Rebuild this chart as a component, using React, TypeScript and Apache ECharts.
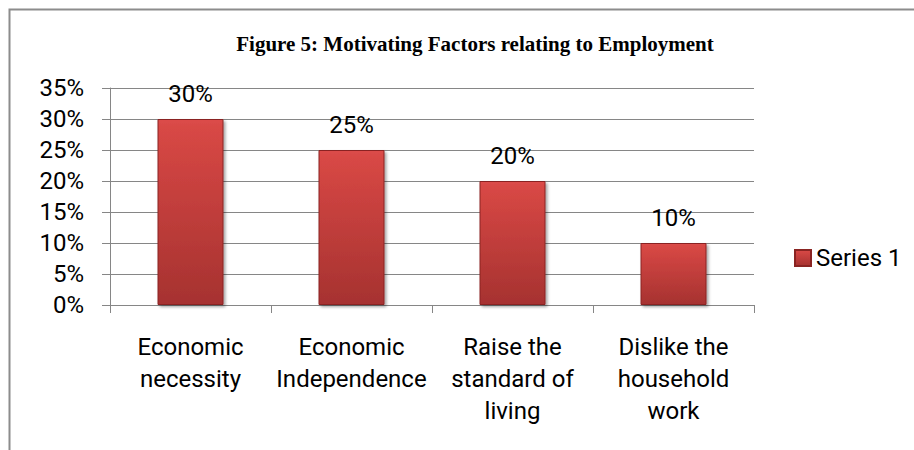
import React, { useEffect, useRef } from "react";
import * as echarts from "echarts";

const titleText = "Figure 5: Motivating Factors relating to Employment";
const categories = [
  "Economic\nnecessity",
  "Economic\nIndependence",
  "Raise the\nstandard of\nliving",
  "Dislike the\nhousehold\nwork",
];
const seriesName = "Series 1";
const values = [0.3, 0.25, 0.2, 0.1];
const yMin = 0;
const yMax = 0.35;
const yInterval = 0.05;

const FONT = "Roboto, 'Open Sans', sans-serif";

const barGradient = new echarts.graphic.LinearGradient(0, 0, 0, 1, [
  { offset: 0, color: "#DC4D4A" },
  { offset: 0.04, color: "#D84845" },
  { offset: 1, color: "#A63230" },
]);

export default function App() {
  const ref = useRef<HTMLDivElement>(null);
  useEffect(() => {
    if (!ref.current) return;
    const chart = echarts.init(ref.current, null, { renderer: "svg" });
    chart.setOption({
      animation: false,
      backgroundColor: "#ffffff",
      title: {
        text: titleText,
        left: 470,
        top: 28,
        textAlign: "center",
        textStyle: {
          fontFamily: "'Liberation Serif', 'Times New Roman', serif",
          fontWeight: "bold",
          fontSize: 21,
          color: "#000",
        },
      },
      legend: {
        data: [seriesName],
        left: 794,
        top: 246,
        padding: 0,
        itemWidth: 16,
        itemHeight: 16,
        itemGap: 6,
        icon: "rect",
        textStyle: { fontFamily: FONT, fontSize: 24, color: "#000" },
      },
      grid: { left: 110, right: 160, top: 88, bottom: 145, containLabel: false },
      xAxis: {
        type: "category",
        data: categories,
        axisLine: { lineStyle: { color: "#868686", width: 1 } },
        axisTick: { show: true, length: 8, lineStyle: { color: "#868686" } },
        axisLabel: {
          margin: 26,
          fontFamily: FONT,
          fontSize: 24,
          lineHeight: 32,
          color: "#000",
          interval: 0,
        },
      },
      yAxis: {
        type: "value",
        min: yMin,
        max: yMax,
        interval: yInterval,
        axisLine: { show: true, lineStyle: { color: "#868686", width: 1 } },
        axisTick: { show: true, length: 8, lineStyle: { color: "#868686" } },
        splitLine: { show: true, lineStyle: { color: "#868686", width: 1 } },
        axisLabel: {
          margin: 26,
          fontFamily: FONT,
          fontSize: 24,
          color: "#000",
          formatter: (v: number) => Math.round(v * 100) + "%",
        },
      },
      series: [
        {
          name: seriesName,
          type: "bar",
          data: values,
          barWidth: 66,
          itemStyle: {
            color: barGradient,
            borderColor: "#8A2422",
            borderWidth: 1,
            shadowBlur: 3,
            shadowColor: "rgba(0,0,0,0.35)",
            shadowOffsetX: 2,
            shadowOffsetY: 2,
          },
          label: {
            show: true,
            position: "top",
            distance: 13,
            fontFamily: FONT,
            fontSize: 24,
            color: "#000",
            formatter: (p: any) => Math.round(p.value * 100) + "%",
          },
        },
      ],
      graphic: [
        {
          type: "rect",
          silent: true,
          z: -1,
          shape: { x: 9.5, y: 9.5, width: 1000, height: 600 },
          style: { fill: "none", stroke: "#8C8C8C", lineWidth: 2 },
        },
      ],
    });
    return () => chart.dispose();
  }, []);
  return (
    <div
      ref={ref}
      style={{ position: "absolute", left: 0, top: 0, width: 914, height: 450 }}
    />
  );
}
